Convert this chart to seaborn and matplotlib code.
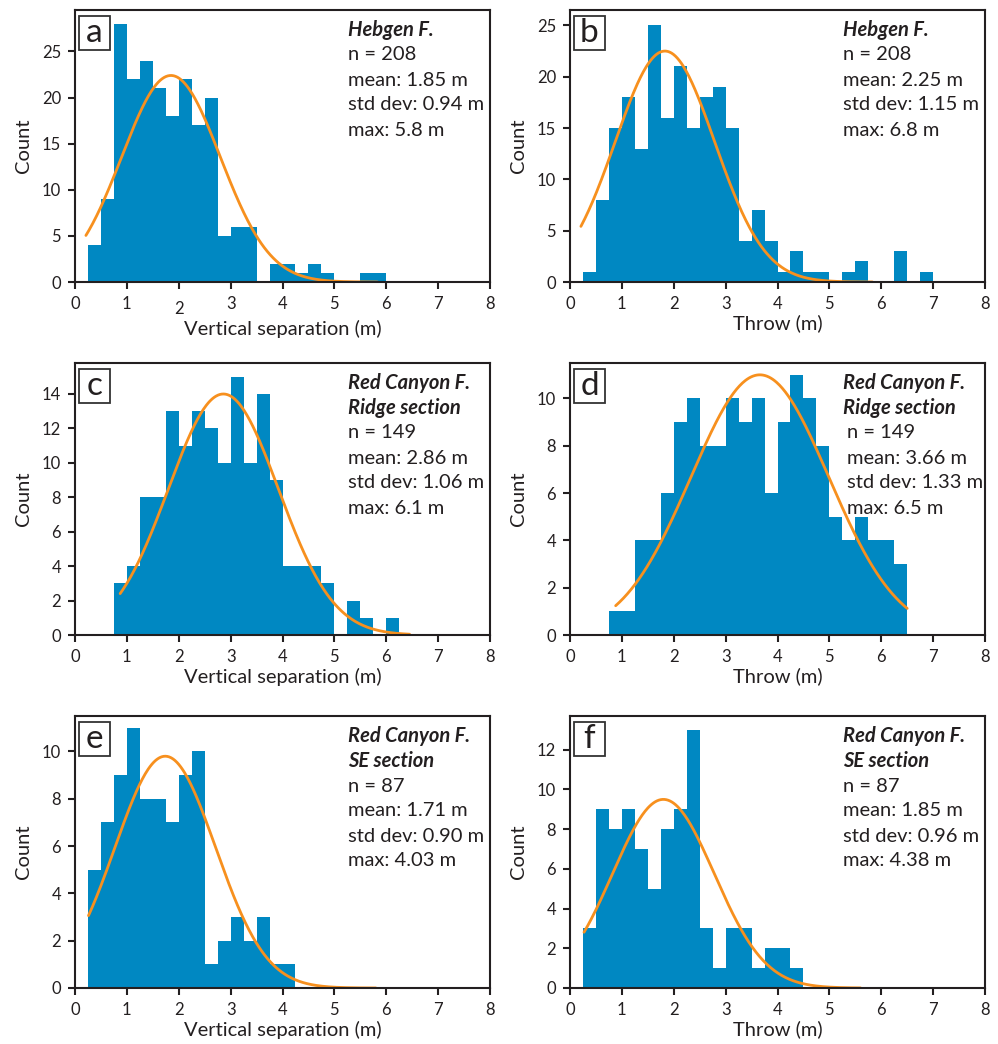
import numpy as np
import pandas as pd
import matplotlib
matplotlib.use("Agg")
import matplotlib.pyplot as plt
import seaborn as sns
from matplotlib.patches import Rectangle
from matplotlib.transforms import ScaledTranslation

# ---------------- data ----------------
BIN_W = 0.25
a_start = 0.25
a_counts = [4, 9, 28, 22, 24, 21, 18, 22, 17, 20, 5, 6, 6, 0, 2, 2, 1, 2, 1, 0, 0, 1, 1]
b_start = 0.25
b_counts = [1, 8, 15, 18, 13, 25, 16, 21, 15, 18, 19, 15, 4, 7, 4, 1, 3, 1, 1, 0, 1, 2, 0, 0, 3, 0, 1]
c_start = 0.75
c_counts = [3, 4, 8, 8, 13, 11, 13, 12, 10, 15, 10, 14, 9, 4, 4, 4, 3, 0, 2, 1, 0, 1]
d_start = 0.75
d_counts = [1, 1, 4, 4, 6, 9, 10, 8, 8, 10, 9, 10, 6, 9, 11, 10, 8, 5, 4, 5, 4, 4, 3]
e_start = 0.25
e_counts = [5, 7, 9, 11, 8, 8, 7, 9, 10, 1, 2, 3, 2, 3, 1, 1]
f_start = 0.25
f_counts = [3, 9, 8, 9, 7, 5, 8, 9, 13, 3, 1, 3, 3, 1, 2, 2, 1]

# fitted normal curves (centre, spread, peak height, drawn x-range)
curve_mu = [1.85, 1.83, 2.86, 3.66, 1.74, 1.80]
curve_sd = [0.95, 0.96, 1.06, 1.33, 0.97, 0.98]
curve_peak = [22.4, 22.5, 14.0, 11.0, 9.8, 9.5]
curve_x0 = [0.21, 0.21, 0.87, 0.88, 0.26, 0.27]
curve_x1 = [5.83, 5.83, 6.45, 6.50, 5.80, 5.60]

panel_letters = ["a", "b", "c", "d", "e", "f"]
titles = [["Hebgen F."], ["Hebgen F."],
          ["Red Canyon F.", "Ridge section"], ["Red Canyon F.", "Ridge section"],
          ["Red Canyon F.", "SE section"], ["Red Canyon F.", "SE section"]]
stats = [["n = 208", "mean: 1.85 m", "std dev: 0.94 m", "max: 5.8 m"],
         ["n = 208", "mean: 2.25 m", "std dev: 1.15 m", "max: 6.8 m"],
         ["n = 149", "mean: 2.86 m", "std dev: 1.06 m", "max: 6.1 m"],
         ["n = 149", "mean: 3.66 m", "std dev: 1.33 m", "max: 6.5 m"],
         ["n = 87", "mean: 1.71 m", "std dev: 0.90 m", "max: 4.03 m"],
         ["n = 87", "mean: 1.85 m", "std dev: 0.96 m", "max: 4.38 m"]]
xlabels = ["Vertical separation (m)", "Throw (m)"] * 3
x_ticks = [0, 1, 2, 3, 4, 5, 6, 7, 8]
y_ticks = [[0, 5, 10, 15, 20, 25], [0, 5, 10, 15, 20, 25],
           [0, 2, 4, 6, 8, 10, 12, 14], [0, 2, 4, 6, 8, 10],
           [0, 2, 4, 6, 8, 10], [0, 2, 4, 6, 8, 10, 12]]
y_max = [29.5, 26.5, 15.8, 11.5, 11.5, 13.7]

starts = [a_start, b_start, c_start, d_start, e_start, f_start]
counts = [a_counts, b_counts, c_counts, d_counts, e_counts, f_counts]

# ---------------- style ----------------
sns.set_style("ticks")
FONT = ["Lato", "DejaVu Sans"]
plt.rcParams["font.family"] = FONT
INK = "#231F20"
BAR = "#0088C2"
ORANGE = "#F7901E"
plt.rcParams.update({
    "axes.edgecolor": INK, "axes.linewidth": 1.5,
    "xtick.color": INK, "ytick.color": INK,
    "xtick.major.width": 1.5, "ytick.major.width": 1.5,
    "xtick.major.size": 5, "ytick.major.size": 5,
    "xtick.major.pad": 5, "ytick.major.pad": 5,
    "xtick.direction": "out", "ytick.direction": "out",
    "xtick.labelsize": 12, "ytick.labelsize": 12,
    "text.color": INK, "axes.labelcolor": INK,
})

DPI = 100
W, H = 998, 1044
fig = plt.figure(figsize=(W / DPI, H / DPI), dpi=DPI)

col_left = [75, 570]
row_top = [10, 363, 716]
ax_w, ax_h = 415, 272
text_dx = [273, 273, 273, 273, 273, 273]
stats_dx = [273, 273, 273, 277, 273, 273]

for i in range(6):
    r, c = divmod(i, 2)
    left = col_left[c] / W
    bottom = 1 - (row_top[r] + ax_h) / H
    ax = fig.add_axes([left, bottom, ax_w / W, ax_h / H])

    n_bins = len(counts[i])
    lo = starts[i]
    hi = starts[i] + BIN_W * n_bins
    centers = lo + BIN_W * (np.arange(n_bins) + 0.5)
    df = pd.DataFrame({"x": centers, "w": np.asarray(counts[i], dtype=float)})
    sns.histplot(data=df, x="x", weights="w", binwidth=BIN_W,
                 binrange=(lo, hi), stat="count",
                 color=BAR, alpha=1, linewidth=0, ax=ax)

    xs = np.linspace(curve_x0[i], curve_x1[i], 300)
    ys = curve_peak[i] * np.exp(-0.5 * ((xs - curve_mu[i]) / curve_sd[i]) ** 2)
    sns.lineplot(x=xs, y=ys, color=ORANGE, linewidth=2.0, ax=ax)

    ax.set_xlim(0, 8)
    ax.set_ylim(0, y_max[i])
    ax.set_xticks(x_ticks)
    ax.set_yticks(y_ticks[i])
    ax.set_xlabel(xlabels[i], fontsize=14.5, labelpad=2)
    ax.set_ylabel("Count", fontsize=14.5, labelpad=7)
    for s in ax.spines.values():
        s.set_visible(True)

    # panel letter in a box (pixel geometry converted to axes fraction)
    bx, by_top, bw, bh = 4, 6, 31, 34
    ax.add_patch(Rectangle((bx / ax_w, 1 - (by_top + bh) / ax_h),
                           bw / ax_w, bh / ax_h, transform=ax.transAxes,
                           facecolor="white", edgecolor="#333333",
                           linewidth=1.3, zorder=5, clip_on=False))
    ax.annotate(panel_letters[i], xy=(0, 1), xycoords="axes fraction",
                xytext=(bx + bw / 2, -(by_top + 26)), textcoords="offset pixels",
                ha="center", va="baseline", fontsize=24, zorder=6)

    # annotation text
    y = 20
    for t in titles[i]:
        ax.annotate(t, xy=(0, 1), xycoords="axes fraction",
                    xytext=(text_dx[i], -y), textcoords="offset pixels",
                    ha="left", va="center", fontsize=14.5,
                    fontweight="bold", fontstyle="italic")
        y += 25
    for t in stats[i]:
        ax.annotate(t, xy=(0, 1), xycoords="axes fraction",
                    xytext=(stats_dx[i], -y), textcoords="offset pixels",
                    ha="left", va="center", fontsize=14.5)
        y += 25

    if i == 0:
        lab = ax.xaxis.get_major_ticks()[2].label1
        lab.set_transform(lab.get_transform() +
                          ScaledTranslation(0, -5 / DPI, fig.dpi_scale_trans))

fig.savefig("out.png", dpi=DPI)
